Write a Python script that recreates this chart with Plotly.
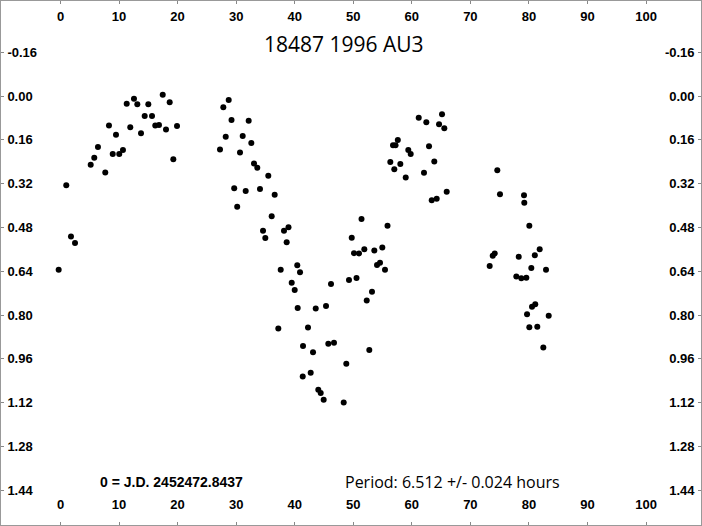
import plotly.graph_objects as go

# Phase (percent of period) and relative magnitude
phase = [-0.31, 0.99, 1.79, 2.48, 5.16, 5.77, 6.40, 7.65, 8.28, 8.92, 9.48, 10.04, 10.67, 11.31,
         11.92, 12.55, 13.12, 13.75, 14.38, 15.00, 15.63, 16.19, 16.82, 17.46, 18.02, 18.65, 19.27,
         19.90, 27.24, 27.81, 28.22, 28.73, 29.21, 29.67, 30.18, 30.66, 31.12, 31.63, 32.14, 32.59,
         33.05, 33.61, 34.07, 34.59, 34.98, 35.49, 36.07, 36.58, 37.20, 37.61, 38.17, 38.63, 38.94,
         39.49, 40.00, 40.44, 40.51, 40.91, 41.37, 41.42, 42.27, 42.73, 43.13, 43.59, 44.03, 44.44,
         44.95, 45.35, 45.74, 46.20, 46.71, 48.37, 48.81, 49.27, 49.74, 50.13, 50.56, 50.98, 51.41,
         51.89, 52.30, 52.74, 53.20, 53.60, 54.06, 54.57, 54.96, 55.42, 55.85, 56.33, 56.79, 57.22,
         57.61, 57.01, 58.04, 58.96, 59.40, 59.81, 61.18, 62.08, 62.48, 62.94, 63.40, 63.84, 64.25,
         64.65, 65.16, 65.55, 65.96, 73.30, 73.82, 74.16, 74.60, 75.06, 77.85, 78.26, 78.70, 79.16,
         79.21, 79.56, 79.68, 80.07, 80.07, 80.53, 80.41, 81.08, 81.01, 81.43, 81.84, 82.46, 82.92,
         83.38]
mag = [0.635, 0.326, 0.513, 0.537, 0.251, 0.226, 0.186, 0.279, 0.108, 0.212, 0.142, 0.212, 0.197,
       0.028, 0.114, 0.010, 0.030, 0.136, 0.073, 0.030, 0.073, 0.108, 0.106, -0.005, 0.122, 0.023,
       0.231, 0.110, 0.195, 0.041, 0.149, 0.015, 0.088, 0.337, 0.405, 0.206, 0.146, 0.347, 0.090,
       0.172, 0.247, 0.262, 0.340, 0.492, 0.519, 0.291, 0.439, 0.361, 0.849, 0.635, 0.492, 0.534,
       0.479, 0.682, 0.709, 0.618, 0.774, 0.644, 1.025, 0.913, 0.846, 1.011, 0.936, 0.776, 1.073,
       1.085, 1.110, 0.767, 0.905, 0.687, 0.901, 1.120, 0.978, 0.672, 0.518, 0.574, 0.665, 0.575,
       0.449, 0.560, 0.747, 0.928, 0.715, 0.564, 0.617, 0.609, 0.553, 0.635, 0.474, 0.241, 0.180,
       0.180, 0.161, 0.268, 0.248, 0.298, 0.197, 0.212, 0.079, 0.280, 0.096, 0.184, 0.381, 0.239,
       0.375, 0.103, 0.067, 0.118, 0.350, 0.621, 0.584, 0.575, 0.271, 0.359, 0.659, 0.587, 0.666,
       0.363, 0.390, 0.664, 0.797, 0.474, 0.845, 0.770, 0.628, 0.761, 0.582, 0.843, 0.560, 0.919,
       0.635, 0.803]

x_ticks = [0, 10, 20, 30, 40, 50, 60, 70, 80, 90, 100]
y_ticks = [-0.16, 0.00, 0.16, 0.32, 0.48, 0.64, 0.80, 0.96, 1.12, 1.28, 1.44]
y_tick_text = ["%.2f" % v for v in y_ticks]

title_text = "18487 1996 AU3"
jd_text = "0 = J.D. 2452472.8437"
period_text = "Period: 6.512 +/- 0.024 hours"

XR = [-10.33, 109.56]
YR = [1.5708, -0.3507]

tickfont = dict(family="Liberation Sans, Arial, sans-serif", size=13, color="black", weight="bold")

fig = go.Figure()
fig.add_trace(go.Scatter(x=phase, y=mag, mode="markers",
                         marker=dict(color="black", size=6), showlegend=False))
# invisible trace on overlay axes so they render
fig.add_trace(go.Scatter(x=[None], y=[None], xaxis="x2", yaxis="y2", showlegend=False))

axis_common = dict(showgrid=False, zeroline=False, ticks="inside", ticklen=4,
                   tickcolor="#888888", tickwidth=1, tickfont=tickfont,
                   showline=False, ticklabelposition="inside")

fig.update_layout(
    width=702, height=526,
    margin=dict(l=0, r=0, t=0, b=0),
    paper_bgcolor="white", plot_bgcolor="white",
    xaxis=dict(range=XR, tickvals=x_ticks, ticktext=[str(v) for v in x_ticks],
               side="bottom", ticklabelstandoff=10, **axis_common),
    xaxis2=dict(range=XR, tickvals=x_ticks, ticktext=[str(v) for v in x_ticks],
                side="top", overlaying="x", anchor="y", ticklabelstandoff=8, **axis_common),
    yaxis=dict(range=YR, tickvals=y_ticks, ticktext=y_tick_text,
               side="left", ticklabelstandoff=3, **axis_common),
    yaxis2=dict(range=YR, tickvals=y_ticks, ticktext=y_tick_text,
                side="right", overlaying="y", anchor="x", ticklabelstandoff=3, **axis_common),
    shapes=[dict(type="rect", xref="paper", yref="paper", x0=0, y0=0, x1=1, y1=1,
                 line=dict(color="#999999", width=2), fillcolor="rgba(0,0,0,0)")],
    annotations=[
        dict(text=title_text, xref="paper", yref="paper", x=344/702, y=1-44/526,
             showarrow=False, xanchor="center", yanchor="middle",
             font=dict(family="Open Sans, sans-serif", size=21, color="black")),
        dict(text=jd_text, xref="paper", yref="paper", x=98/702, y=1-482/526,
             showarrow=False, xanchor="left", yanchor="middle",
             font=dict(family="Liberation Sans Narrow, Arial Narrow, Liberation Sans, sans-serif",
                       size=14, color="black", weight="bold")),
        dict(text=period_text, xref="paper", yref="paper", x=343/702, y=1-482/526,
             showarrow=False, xanchor="left", yanchor="middle",
             font=dict(family="Open Sans, sans-serif", size=16, color="black")),
    ],
)

fig.write_html("out.html", config={"displayModeBar": False},
               post_script="document.body.style.margin='0px';document.body.style.overflow='hidden';")
